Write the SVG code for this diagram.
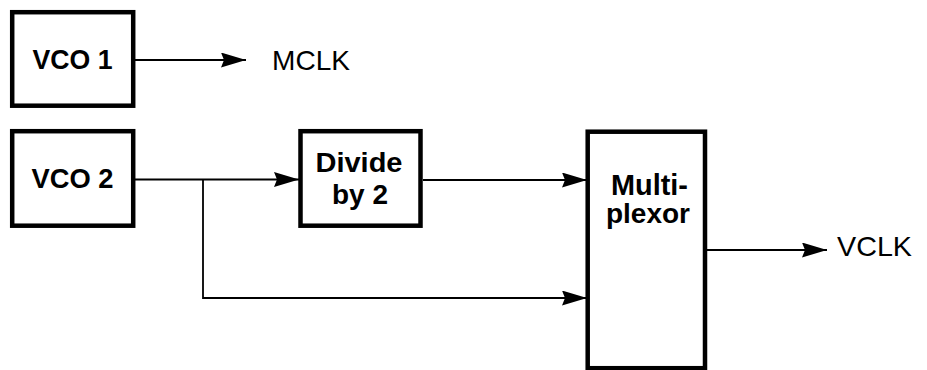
<svg xmlns="http://www.w3.org/2000/svg" width="927" height="370" viewBox="0 0 927 370">
<defs>
<style>
.box{fill:#fff;stroke:#000;stroke-width:4.5}
.lbl{font-family:"Liberation Sans",Arial,sans-serif;font-weight:bold;text-anchor:middle;fill:#000}
.sig{font-family:"Liberation Sans",Arial,sans-serif;fill:#000}
.wire{fill:none;stroke:#000;stroke-width:1.8}
</style>
<marker id="arr" markerUnits="userSpaceOnUse" markerWidth="26" markerHeight="16" refX="25" refY="7.5" orient="auto" viewBox="0 0 26 16">
<path d="M0,0 L25,7.5 L0,15 L3,7.5 z" fill="#000"/>
</marker>
</defs>
<rect width="927" height="370" fill="#fff"/>
<g id="connectors">
<line class="wire" x1="135" y1="60" x2="246" y2="60" marker-end="url(#arr)"/>
<line class="wire" x1="135" y1="179.5" x2="299" y2="179.5" marker-end="url(#arr)"/>
<path class="wire" d="M203,179.5 V298 H587" marker-end="url(#arr)"/>
<line class="wire" x1="423" y1="180" x2="587" y2="180" marker-end="url(#arr)"/>
<line class="wire" x1="707" y1="250" x2="827" y2="250" marker-end="url(#arr)"/>
</g>
<g id="vco1">
<rect class="box" x="12.2" y="12.2" width="121" height="93.5"/>
<text class="lbl" x="72.5" y="69" font-size="27" textLength="80" lengthAdjust="spacingAndGlyphs">VCO 1</text>
</g>
<g id="vco2">
<rect class="box" x="12.2" y="131.2" width="121" height="94.5"/>
<text class="lbl" x="72.5" y="188" font-size="27" textLength="82" lengthAdjust="spacingAndGlyphs">VCO 2</text>
</g>
<g id="divide">
<rect class="box" x="300.5" y="131.2" width="120" height="94.5"/>
<text class="lbl" x="359" y="172" font-size="28.5" textLength="87" lengthAdjust="spacingAndGlyphs">Divide</text>
<text class="lbl" x="360" y="204" font-size="28.5" textLength="56" lengthAdjust="spacingAndGlyphs">by 2</text>
</g>
<g id="mux">
<rect class="box" x="587.7" y="131.7" width="117.3" height="236.5"/>
<text class="lbl" x="649.5" y="195" font-size="29" textLength="77" lengthAdjust="spacingAndGlyphs">Multi-</text>
<text class="lbl" x="648" y="223" font-size="28.5" textLength="84" lengthAdjust="spacingAndGlyphs">plexor</text>
</g>
<g id="mclk"><text class="sig" x="272" y="70" font-size="27.5" textLength="78" lengthAdjust="spacingAndGlyphs">MCLK</text></g>
<g id="vclk"><text class="sig" x="837" y="256" font-size="27.5" textLength="75" lengthAdjust="spacingAndGlyphs">VCLK</text></g>
</svg>
